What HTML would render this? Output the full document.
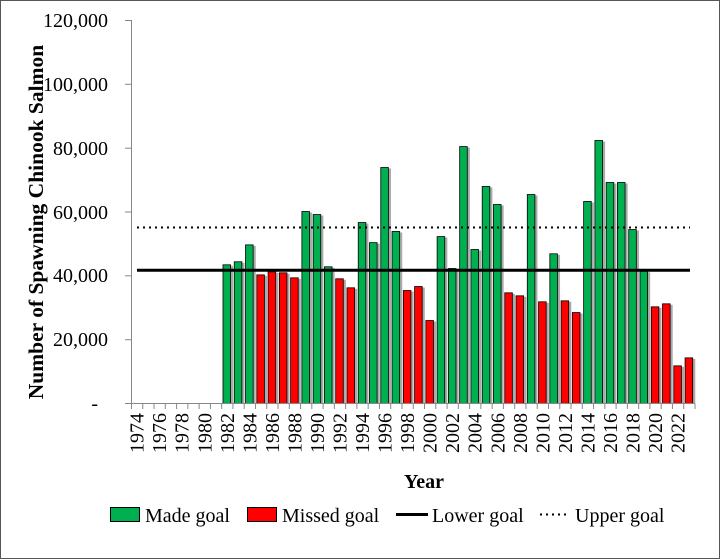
<!DOCTYPE html>
<html><head><meta charset="utf-8"><style>
body{margin:0;background:#fff}
svg{display:block}
text{font-family:"Liberation Serif","Times New Roman",serif}
</style></head><body>
<svg width="720" height="559" viewBox="0 0 720 559" xmlns="http://www.w3.org/2000/svg" font-family="Liberation Serif, serif">
<rect x="0.5" y="0.5" width="719" height="558" fill="#fff" stroke="#555" stroke-width="1"/>
<g id="bars"></g>
<g stroke="#888" stroke-width="1" fill="none">
<line x1="131.5" y1="20" x2="131.5" y2="403.5"/>
<line x1="131.5" y1="403.5" x2="695" y2="403.5"/>
<line x1="125" y1="20.5" x2="131.5" y2="20.5"/>
<line x1="125" y1="84.3" x2="131.5" y2="84.3"/>
<line x1="125" y1="148.2" x2="131.5" y2="148.2"/>
<line x1="125" y1="212" x2="131.5" y2="212"/>
<line x1="125" y1="275.8" x2="131.5" y2="275.8"/>
<line x1="125" y1="339.7" x2="131.5" y2="339.7"/>
<line x1="125" y1="403.5" x2="131.5" y2="403.5"/>
</g>
<g id="xt" stroke="#888"></g>
<g font-size="20" text-anchor="end" fill="#000" font-family="Liberation Serif, serif">
<text x="108" y="27">120,000</text>
<text x="108" y="91">100,000</text>
<text x="108" y="155">80,000</text>
<text x="108" y="219">60,000</text>
<text x="108" y="282">40,000</text>
<text x="108" y="346">20,000</text>
<text x="98" y="410">-</text>
</g>
<text transform="translate(43,222) rotate(-90)" font-size="21.5" font-weight="bold" text-anchor="middle" font-family="Liberation Serif, serif">Number of Spawning Chinook Salmon</text>
<g id="xl" font-size="20" font-family="Liberation Serif, serif"></g>
<line x1="137" y1="270.2" x2="690" y2="270.2" stroke="#000" stroke-width="3"/>
<line x1="137" y1="227.5" x2="690" y2="227.5" stroke="#000" stroke-width="2" stroke-dasharray="2,4"/>
<text x="424" y="488" font-size="20" font-weight="bold" text-anchor="middle" font-family="Liberation Serif, serif">Year</text>
<g font-size="20" font-family="Liberation Serif, serif">
<rect x="110.5" y="507.5" width="29" height="14" fill="#00b050" stroke="#000"/>
<text x="145" y="522">Made goal</text>
<rect x="247.5" y="507.5" width="29" height="14" fill="#ff0000" stroke="#000"/>
<text x="282" y="522">Missed goal</text>
<line x1="396" y1="514.5" x2="428" y2="514.5" stroke="#000" stroke-width="3"/>
<text x="432" y="522">Lower goal</text>
<line x1="540" y1="514.5" x2="568" y2="514.5" stroke="#000" stroke-width="2" stroke-dasharray="2,4"/>
<text x="575" y="522">Upper goal</text>
</g>
</svg>
<script>
var vals={1982:43450,1983:44400,1984:49700,1985:40300,1986:41260,1987:40950,1988:39380,1989:60150,1990:59200,1991:42830,1992:39070,1993:36250,1994:56700,1995:50400,1996:73940,1997:53900,1998:35400,1999:36650,2000:26000,2001:52300,2002:42300,2003:80500,2004:48250,2005:68000,2006:62350,2007:34680,2008:33740,2009:65480,2010:31860,2011:46900,2012:32170,2013:28500,2014:63300,2015:82400,2016:69240,2017:69240,2018:54500,2019:41450,2020:30290,2021:31230,2022:11800,2023:14300};
var ns="http://www.w3.org/2000/svg",x0=131.5,w=11.27,base=403.5,k=383/120000;
var b=document.getElementById("bars"),t=document.getElementById("xt"),l=document.getElementById("xl");
function el(p,n,a){var e=document.createElementNS(ns,n);for(var q in a)e.setAttribute(q,a[q]);p.appendChild(e);return e;}
for(var i=0;i<=50;i++){var xx=x0+i*w;el(t,"line",{x1:xx,y1:403.5,x2:xx,y2:409});}
for(var y=1974;y<=2023;y++){var i=y-1974,c=x0+(i+0.5)*w;
 if(vals[y]){var v=vals[y],h=v*k,col=v>=41000?"#00b050":"#ff0000";
  if(y==1986||y==1987||y==1985||y==1988) col="#ff0000";
  if(y==2002||y==2019) col="#00b050";
  el(b,"rect",{x:c-3.2+1.5,y:base-h+1,width:7.6,height:h-1,fill:"#aaa"});
  el(b,"rect",{x:c-4.3,y:base-h,width:7.6,height:h,fill:col,stroke:"#000","stroke-width":0.8});}
 if(i%2==0){var tx=el(l,"text",{transform:"translate("+(c+6.5)+",413) rotate(-90)","text-anchor":"end"});tx.textContent=y;}}
</script>
</body></html>
